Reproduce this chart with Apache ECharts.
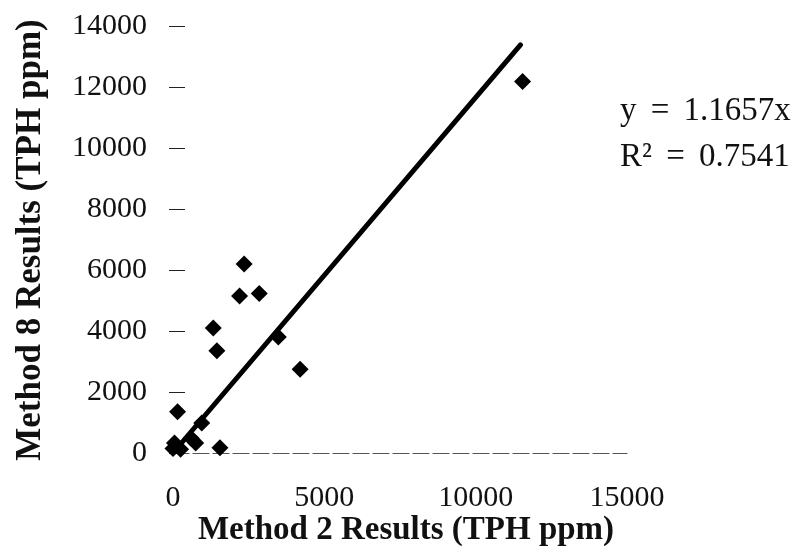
<!DOCTYPE html>
<html>
<head>
<meta charset="utf-8">
<script src="https://cdn.jsdelivr.net/npm/echarts@6/dist/echarts.min.js"></script>
<style>html,body{margin:0;padding:0;background:#fff;}#c{width:799px;height:556px;}</style>
</head>
<body>
<div id="c"></div>
<script>
// Data
var method2 = [0, 50, 250, 150, 600, 750, 950, 1550, 1330, 1450, 2200, 2350, 2850, 3480, 4200, 11550];
var method8 = [150, 330, 120, 1350, 480, 330, 980, 170, 4100, 3350, 5150, 6200, 5230, 3800, 2750, 12180];
var trendX = [0, 11480];
var trendY = [0, 13380];
var xTicks = [0, 5000, 10000, 15000];
var yTicks = [0, 2000, 4000, 6000, 8000, 10000, 12000, 14000];
var xTitle = 'Method 2 Results (TPH ppm)';
var yTitle = 'Method 8 Results (TPH ppm)';

var points = method2.map(function (x, i) { return [x, method8[i]]; });
var trend = trendX.map(function (x, i) { return [x, trendY[i]]; });

var serif = '"Liberation Serif", "DejaVu Serif", serif';
var plain = function (v) { return String(v); };
var chart = echarts.init(document.getElementById('c'));
chart.setOption({
  backgroundColor: '#fff',
  animation: false,
  grid: { left: 173, top: 26, width: 454, height: 427, containLabel: false },
  xAxis: {
    type: 'value', min: xTicks[0], max: xTicks[xTicks.length - 1], interval: 5000,
    axisLine: { show: true, lineStyle: { color: '#555', width: 1.2, type: [16, 4] } },
    axisTick: { show: false },
    splitLine: { show: false },
    axisLabel: { margin: 30, fontSize: 30, fontFamily: serif, color: '#111', formatter: plain }
  },
  yAxis: {
    type: 'value', min: yTicks[0], max: yTicks[yTicks.length - 1], interval: 2000,
    offset: -12,
    axisLine: { show: false },
    axisTick: { show: true, length: 16, lineStyle: { color: '#222', width: 1 } },
    splitLine: { show: false },
    axisLabel: { margin: 38, fontSize: 30, fontFamily: serif, color: '#111', formatter: plain }
  },
  series: [
    {
      type: 'line', data: trend, showSymbol: false, symbol: 'none',
      lineStyle: { color: '#000', width: 5, cap: 'round' }, z: 2
    },
    {
      type: 'scatter', data: points, symbol: 'diamond', symbolSize: 17,
      itemStyle: { color: '#000', opacity: 1 }, z: 3
    }
  ],
  graphic: [
    {
      type: 'text', left: 620, top: 95,
      style: {
        text: 'y {e|=} 1.1657x', fontSize: 33, fontFamily: serif, fill: '#111',
        rich: { e: { fontSize: 33, fontFamily: serif, fill: '#111', padding: [0, 6] } }
      }
    },
    {
      type: 'text', left: 620, top: 141,
      style: {
        text: 'R\u00b2 {e|=} 0.7541', fontSize: 33, fontFamily: serif, fill: '#111',
        rich: { e: { fontSize: 33, fontFamily: serif, fill: '#111', padding: [0, 6] } }
      }
    },
    {
      type: 'text', x: 406, y: 530,
      style: { text: xTitle, fontSize: 33, fontWeight: 'bold', fontFamily: serif, fill: '#111',
        align: 'center', verticalAlign: 'middle' }
    },
    {
      type: 'text', x: 31, y: 240, rotation: Math.PI / 2,
      style: { text: yTitle, fontSize: 35, fontWeight: 'bold', fontFamily: serif, fill: '#111',
        align: 'center', verticalAlign: 'middle' }
    }
  ]
});
</script>
</body>
</html>
